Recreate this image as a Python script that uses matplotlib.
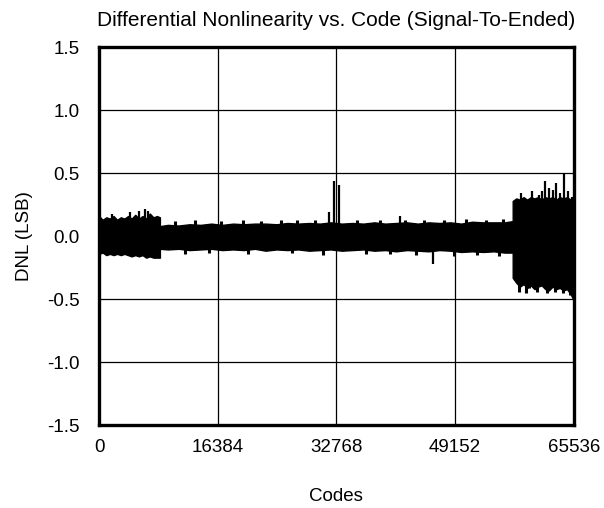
import matplotlib
matplotlib.use("Agg")
import matplotlib.pyplot as plt
import numpy as np

plt.rcParams['font.family'] = ['Liberation Sans', 'DejaVu Sans']

# Envelope of the DNL trace (code, upper LSB, lower LSB)
env_codes = [0, 500, 1000, 1500, 2000, 2500, 3000, 3500, 4000, 4500, 5000, 5500,
             6000, 6500, 7000, 7500, 8000, 8400, 8401,
             9500, 11000, 12500, 14000, 15500, 17000, 18500, 20000, 21500, 23000,
             24500, 26000, 27500, 29000, 30500, 32000, 33500, 35000, 36500, 38000,
             39500, 41000, 42500, 44000, 45500, 47000, 48500, 50000, 51500, 53000,
             54500, 56000, 57100, 57101,
             57600, 58100, 58600, 59100, 59600, 60100, 60600, 61100, 61600, 62100,
             62600, 63100, 63600, 64100, 64600, 65100, 65536]
env_upper = [0.16, 0.13, 0.15, 0.14, 0.16, 0.13, 0.15, 0.14, 0.16, 0.14, 0.17, 0.14,
             0.16, 0.14, 0.18, 0.15, 0.16, 0.15, 0.08,
             0.09, 0.085, 0.095, 0.09, 0.10, 0.09, 0.10, 0.095, 0.10, 0.10,
             0.095, 0.105, 0.10, 0.105, 0.10, 0.11, 0.10, 0.105, 0.10, 0.11,
             0.10, 0.105, 0.11, 0.10, 0.11, 0.105, 0.11, 0.10, 0.115, 0.11,
             0.11, 0.11, 0.12, 0.28,
             0.30, 0.29, 0.31, 0.29, 0.31, 0.30, 0.31, 0.29, 0.31, 0.30,
             0.31, 0.29, 0.31, 0.30, 0.31, 0.29, 0.30]
env_lower = [-0.14, -0.13, -0.15, -0.14, -0.15, -0.14, -0.15, -0.14, -0.15, -0.16, -0.15, -0.16,
             -0.15, -0.17, -0.16, -0.17, -0.17, -0.17, -0.10,
             -0.105, -0.10, -0.11, -0.105, -0.10, -0.11, -0.105, -0.11, -0.10, -0.115,
             -0.105, -0.11, -0.105, -0.115, -0.11, -0.105, -0.115, -0.11, -0.105, -0.115,
             -0.11, -0.12, -0.11, -0.115, -0.12, -0.11, -0.115, -0.125, -0.12, -0.125,
             -0.12, -0.13, -0.13, -0.33,
             -0.37, -0.40, -0.38, -0.41, -0.39, -0.42, -0.40, -0.39, -0.42, -0.43,
             -0.40, -0.42, -0.41, -0.43, -0.42, -0.46, -0.51]

# Isolated spikes (code, DNL value)
spike_codes = [1800, 4300, 5500, 6300, 6700, 31733, 32423, 33154, 41500, 46120,
               58300, 59800, 60700, 61200, 61600, 62100, 62600, 63100, 63700, 64200,
               64700, 65300]
spike_vals = [0.18, 0.19, 0.20, 0.22, 0.20, 0.19, 0.44, 0.41, 0.16, -0.22,
              0.34, 0.36, 0.33, 0.36, 0.44, 0.38, 0.37, 0.42, 0.34, 0.50,
              0.36, 0.31]

# Small bumps on the edges of the band (code, DNL value)
bump_codes = [10500, 13200, 16800, 19900, 22400, 25100, 27300, 29800, 35600, 38800,
              42300, 44900, 47600, 50700, 53400, 55800,
              11800, 15200, 20600, 26700, 30900, 36900, 40200, 43800, 49000, 52200,
              55200, 58000, 58900, 59400, 60400, 61800, 62900, 64000, 65000]
bump_vals = [0.12, 0.125, 0.12, 0.13, 0.12, 0.125, 0.13, 0.125, 0.13, 0.125,
             0.13, 0.125, 0.13, 0.14, 0.13, 0.135,
             -0.14, -0.13, -0.14, -0.135, -0.15, -0.14, -0.145, -0.15, -0.16, -0.15,
             -0.16, -0.44, -0.45, -0.41, -0.44, -0.45, -0.44, -0.45, -0.47]

xticks = [0, 16384, 32768, 49152, 65536]
yticks = [-1.5, -1.0, -0.5, 0.0, 0.5, 1.0, 1.5]

fig = plt.figure(figsize=(6.04, 5.08), dpi=100)
ax = fig.add_axes([0.164, 0.163, 0.786, 0.744])

ax.fill_between(env_codes, env_lower, env_upper, color='black', lw=1.0,
                edgecolor='black', zorder=3)
ax.vlines(spike_codes, 0, spike_vals, color='black', lw=1.6, zorder=3)
ax.vlines(bump_codes, 0, bump_vals, color='black', lw=2.2, zorder=3)

ax.set_xlim(0, 65536)
ax.set_ylim(-1.5, 1.5)
ax.set_xticks(xticks)
ax.set_xticklabels([str(t) for t in xticks])
ax.set_yticks(yticks)
ax.set_yticklabels([f"{t:.1f}" for t in yticks])
ax.grid(True, color='black', lw=0.9, zorder=1)
ax.tick_params(length=0, labelsize=13.5, colors='black')
ax.tick_params(axis='x', pad=10)
ax.tick_params(axis='y', pad=14)
for s in ax.spines.values():
    s.set_linewidth(2.4)
    s.set_color('black')

ax.set_title("Differential Nonlinearity vs. Code (Signal-To-Ended)", fontsize=15, pad=15)
ax.set_xlabel("Codes", fontsize=13.5, labelpad=23)
ax.set_ylabel("DNL (LSB)", fontsize=13.5, labelpad=10)

fig.savefig("out.png", dpi=100)
